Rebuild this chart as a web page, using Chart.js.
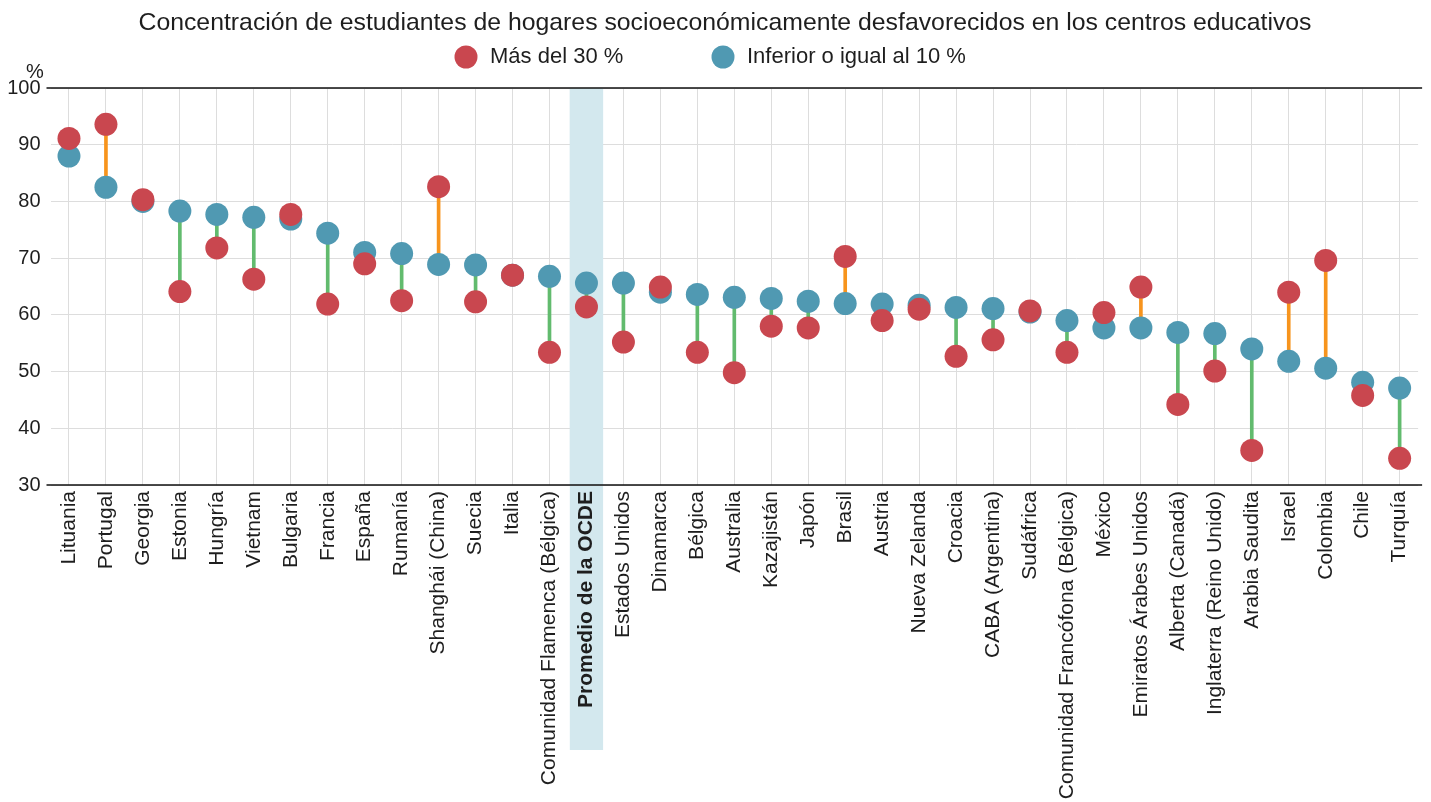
<!DOCTYPE html>
<html><head><meta charset="utf-8">
<script src="https://cdn.jsdelivr.net/npm/chart.js@4.4.1/dist/chart.umd.min.js"></script>
<style>html,body{margin:0;padding:0;background:#fff}#wrap{width:1431px;height:802px;position:relative}</style>
</head><body><div id="wrap"><canvas id="c" width="1431" height="802"></canvas></div>
<script>
const chartTitle = "Concentración de estudiantes de hogares socioeconómicamente desfavorecidos en los centros educativos";
const seriesNames = ["Más del 30 %", "Inferior o igual al 10 %"];
const unitLabel = "%";
const highlightCategory = "Promedio de la OCDE";
const categories = ["Lituania","Portugal","Georgia","Estonia","Hungría","Vietnam","Bulgaria","Francia","España","Rumanía","Shanghái (China)","Suecia","Italia","Comunidad Flamenca (Bélgica)","Promedio de la OCDE","Estados Unidos","Dinamarca","Bélgica","Australia","Kazajistán","Japón","Brasil","Austria","Nueva Zelanda","Croacia","CABA (Argentina)","Sudáfrica","Comunidad Francófona (Bélgica)","México","Emiratos Árabes Unidos","Alberta (Canadá)","Inglaterra (Reino Unido)","Arabia Saudita","Israel","Colombia","Chile","Turquía"];
const mas30 = [91.1, 93.6, 80.3, 64.1, 71.8, 66.3, 77.7, 61.9, 69.0, 62.5, 82.6, 62.3, 67.0, 53.4, 61.4, 55.2, 64.9, 53.4, 49.8, 58.0, 57.7, 70.3, 59.0, 61.0, 52.7, 55.6, 60.7, 53.4, 60.4, 64.9, 44.2, 50.1, 36.1, 64.0, 69.6, 45.8, 34.7];
const infer10 = [88.0, 82.5, 80.0, 78.3, 77.7, 77.2, 76.9, 74.4, 71.0, 70.8, 68.9, 68.8, 67.0, 66.8, 65.6, 65.6, 64.0, 63.6, 63.1, 62.9, 62.4, 62.0, 61.9, 61.7, 61.3, 61.1, 60.5, 59.0, 57.7, 57.7, 56.9, 56.7, 54.0, 51.8, 50.6, 48.1, 47.1];
const yMin = 30, yMax = 100, yStep = 10;

const FONT = "'Liberation Sans', Arial, Helvetica, sans-serif";
const RED = "#c9474f", BLUE = "#5099b2", ORANGE = "#f7941d", GREEN = "#62bb6e", BAND = "#d3e8ee", TXT = "#1e1e1e";
const hiIdx = categories.indexOf(highlightCategory);

const decor = {
  id: 'decor',
  bandRect(chart) {
    const x = chart.scales.x;
    const w = x.getPixelForValue(1) - x.getPixelForValue(0);
    const cx = x.getPixelForValue(hiIdx);
    return [cx - w * 0.45, w * 0.9];
  },
  beforeDraw(chart) {
    const ctx = chart.ctx, a = chart.chartArea;
    const [bx, bw] = this.bandRect(chart);
    ctx.save();
    ctx.fillStyle = BAND;
    ctx.fillRect(bx, a.top, bw, 750 - a.top);
    ctx.restore();
  },
  beforeDatasetsDraw(chart) {
    const ctx = chart.ctx, a = chart.chartArea;
    const [bx, bw] = this.bandRect(chart);
    ctx.save();
    ctx.fillStyle = BAND;
    ctx.fillRect(bx, a.top, bw, a.bottom - a.top);
    ctx.strokeStyle = "#111";
    ctx.lineWidth = 1.5;
    ctx.beginPath();
    ctx.moveTo(a.left - 4, a.top); ctx.lineTo(a.right + 4, a.top);
    ctx.moveTo(a.left - 4, a.bottom); ctx.lineTo(a.right + 4, a.bottom);
    ctx.stroke();
    ctx.restore();
  },
  afterDraw(chart) {
    const ctx = chart.ctx;
    ctx.save();
    ctx.fillStyle = TXT;
    ctx.textBaseline = 'middle';
    ctx.textAlign = 'center';
    ctx.font = "24.8px " + FONT;
    ctx.fillText(chartTitle, 725, 23);
    // legend
    ctx.font = "22px " + FONT;
    ctx.textAlign = 'left';
    const items = [[RED, seriesNames[0], 466], [BLUE, seriesNames[1], 723]];
    items.forEach(([c, t, x]) => {
      ctx.fillStyle = c;
      ctx.beginPath(); ctx.arc(x, 57, 11.5, 0, Math.PI * 2); ctx.fill();
      ctx.fillStyle = TXT;
      ctx.fillText(t, x + 24, 57);
    });
    ctx.font = "20px " + FONT;
    ctx.textAlign = 'center';
    ctx.fillText(unitLabel, 35, 72);
    ctx.restore();
  }
};

const connectors = categories.map((_, i) => [infer10[i], mas30[i]]);
const connColors = categories.map((_, i) => mas30[i] > infer10[i] ? ORANGE : GREEN);

new Chart(document.getElementById('c'), {
  data: {
    labels: categories,
    datasets: [
      { type: 'line', label: seriesNames[0], data: mas30, showLine: false, pointRadius: 11.5, pointHoverRadius: 11.5,
        pointBackgroundColor: RED, pointBorderWidth: 0, order: 0 },
      { type: 'line', label: seriesNames[1], data: infer10, showLine: false, pointRadius: 11.5, pointHoverRadius: 11.5,
        pointBackgroundColor: BLUE, pointBorderWidth: 0, order: 1 },
      { type: 'bar', label: 'diff', data: connectors, backgroundColor: connColors, barThickness: 3, order: 2 }
    ]
  },
  options: {
    responsive: false,
    animation: false,
    events: [],
    layout: { padding: { left: 0, right: 12.5, top: 88, bottom: 0 } },
    plugins: { legend: { display: false }, title: { display: false }, tooltip: { enabled: false } },
    scales: {
      x: {
        offset: true,
        grid: { offset: false, color: "#dddddd", lineWidth: 1, drawTicks: false },
        border: { display: false },
        ticks: {
          autoSkip: false, maxRotation: 90, minRotation: 90, padding: 6, color: TXT,
          font: (c) => ({ family: FONT, size: 21, weight: c.index === hiIdx ? 'bold' : 'normal' })
        },
        afterFit(s) { s.height = 317; }
      },
      y: {
        min: yMin, max: yMax,
        grid: { color: "#dddddd", lineWidth: 1, drawTicks: false },
        border: { display: false },
        ticks: { stepSize: yStep, padding: 10, color: TXT, font: { family: FONT, size: 20 } },
        afterFit(s) { s.width = 50.5; }
      }
    }
  },
  plugins: [decor]
});
</script></body></html>
